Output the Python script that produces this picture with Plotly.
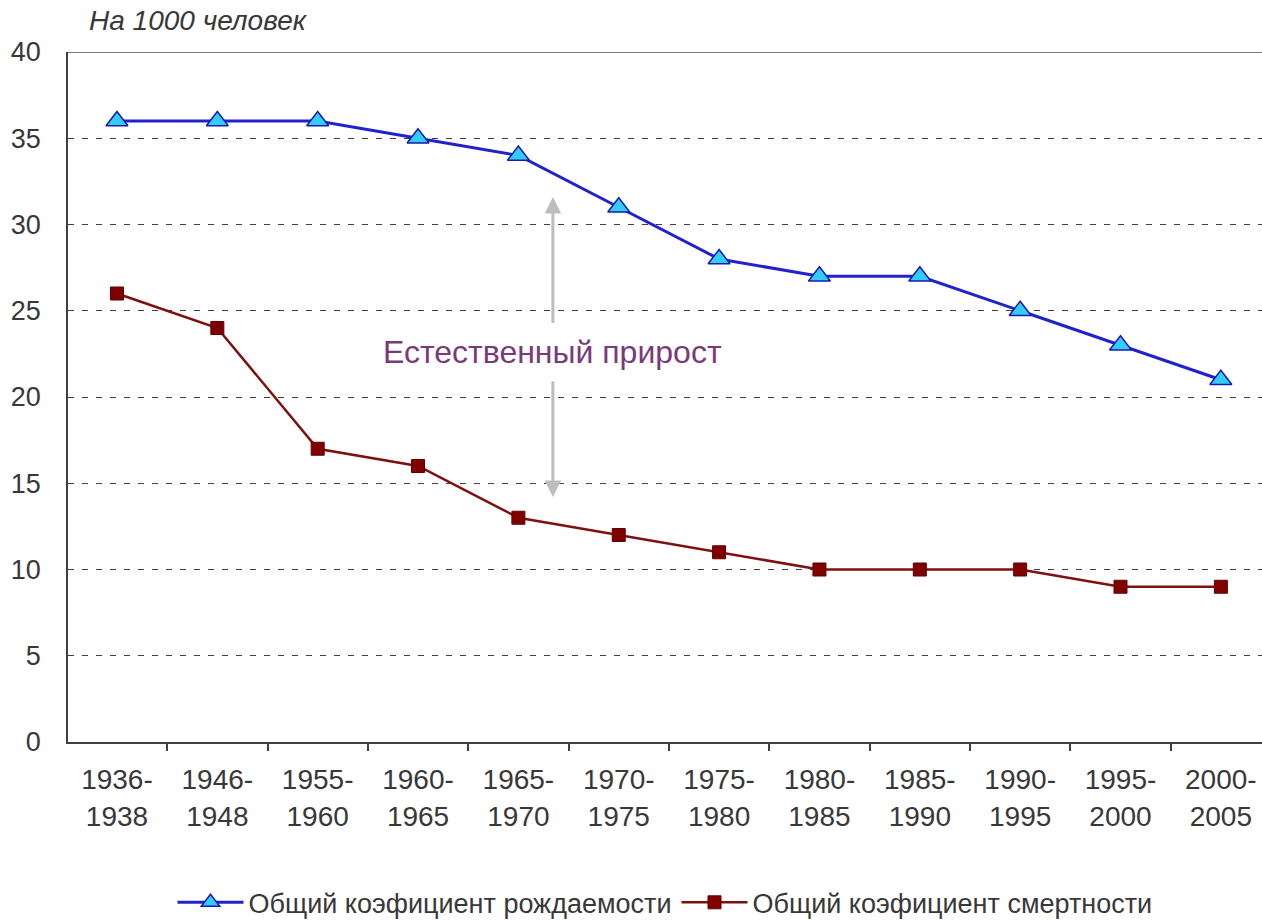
import plotly.graph_objects as go

categories = ["1936-<br>1938", "1946-<br>1948", "1955-<br>1960", "1960-<br>1965", "1965-<br>1970",
              "1970-<br>1975", "1975-<br>1980", "1980-<br>1985", "1985-<br>1990", "1990-<br>1995",
              "1995-<br>2000", "2000-<br>2005"]
birth_rate = [36, 36, 36, 35, 34, 31, 28, 27, 27, 25, 23, 21]
death_rate = [26, 24, 17, 16, 13, 12, 11, 10, 10, 10, 9, 9]
y_ticks = [0, 5, 10, 15, 20, 25, 30, 35, 40]

birth_name = "Общий коэфициент рождаемости"
death_name = "Общий коэфициент смертности"
unit_label = "На 1000 человек"
gap_label = "Естественный прирост"

FONT = "Liberation Sans, Arial, sans-serif"
TXT = "#383838"

fig = go.Figure()
fig.add_trace(go.Scatter(
    x=list(range(len(categories))), y=birth_rate, name=birth_name, mode="lines+markers",
    line=dict(color="#2222cc", width=3),
    marker=dict(symbol="triangle-up", size=19, color="#33ccff", line=dict(color="#1a1aaa", width=1.5)),
))
fig.add_trace(go.Scatter(
    x=list(range(len(categories))), y=death_rate, name=death_name, mode="lines+markers",
    line=dict(color="#7f1010", width=2.5),
    marker=dict(symbol="square", size=13, color="#800000", line=dict(color="#600000", width=1)),
))

arrow_x = 4.344
arrow_top, arrow_bottom = 31.6, 14.2
text_y = 22.6
for tip, tail in [(arrow_top, 24.2), (arrow_bottom, 21.0)]:
    fig.add_annotation(x=arrow_x, y=tip, ax=arrow_x, ay=tail, xref="x", yref="y", axref="x", ayref="y",
                       text="", showarrow=True, arrowhead=2, arrowsize=1.1, arrowwidth=3, arrowcolor="#bdbdbd")
fig.add_annotation(x=arrow_x, y=text_y, xref="x", yref="y", text=gap_label, showarrow=False,
                   font=dict(family=FONT, size=32, color="#7a3a7a"))
fig.add_annotation(x=0.016, y=1.045, xref="paper", yref="paper", xanchor="left", yanchor="middle",
                   text="<i>" + unit_label + "</i>", showarrow=False,
                   font=dict(family=FONT, size=28, color=TXT))
fig.add_shape(type="line", xref="paper", yref="y", x0=0, x1=1, y0=40, y1=40,
              line=dict(color="#808080", width=2))

fig.update_layout(
    width=1262, height=920,
    margin=dict(l=68, r=0, t=52, b=178, autoexpand=False),
    paper_bgcolor="white", plot_bgcolor="white",
    font=dict(family=FONT, size=26, color=TXT),
    showlegend=True,
    legend=dict(orientation="h", x=0.5, xanchor="center", y=-0.233, yanchor="middle",
                font=dict(family=FONT, size=27, color=TXT), itemwidth=66, tracegroupgap=0,
                borderwidth=0),
)
fig.update_xaxes(
    type="linear", range=[-0.488, 11.41], automargin=False,
    tickmode="array", tickvals=list(range(len(categories))), ticktext=categories,
    showgrid=False, zeroline=False, showline=True, linecolor="#404040", linewidth=1.5,
    ticks="", tickfont=dict(family=FONT, size=28, color=TXT), ticklabelstandoff=12,
    minor=dict(tickvals=[i + 0.5 for i in range(-1, len(categories))], ticks="outside",
               ticklen=7, tickcolor="#404040", tickwidth=1.5),
)
fig.update_yaxes(
    range=[0, 40], tickvals=y_ticks, showgrid=True, gridcolor="#404040", gridwidth=1, automargin=False,
    griddash="6px,8px", zeroline=False, showline=True, linecolor="#404040", linewidth=1.5,
    ticks="inside", ticklen=4, tickcolor="#404040",
    tickfont=dict(family=FONT, size=27, color=TXT), ticklabelstandoff=20,
)
fig.write_html("out.html", config={"displayModeBar": False},
               post_script="document.body.style.margin='0';document.body.style.overflow='hidden';")
